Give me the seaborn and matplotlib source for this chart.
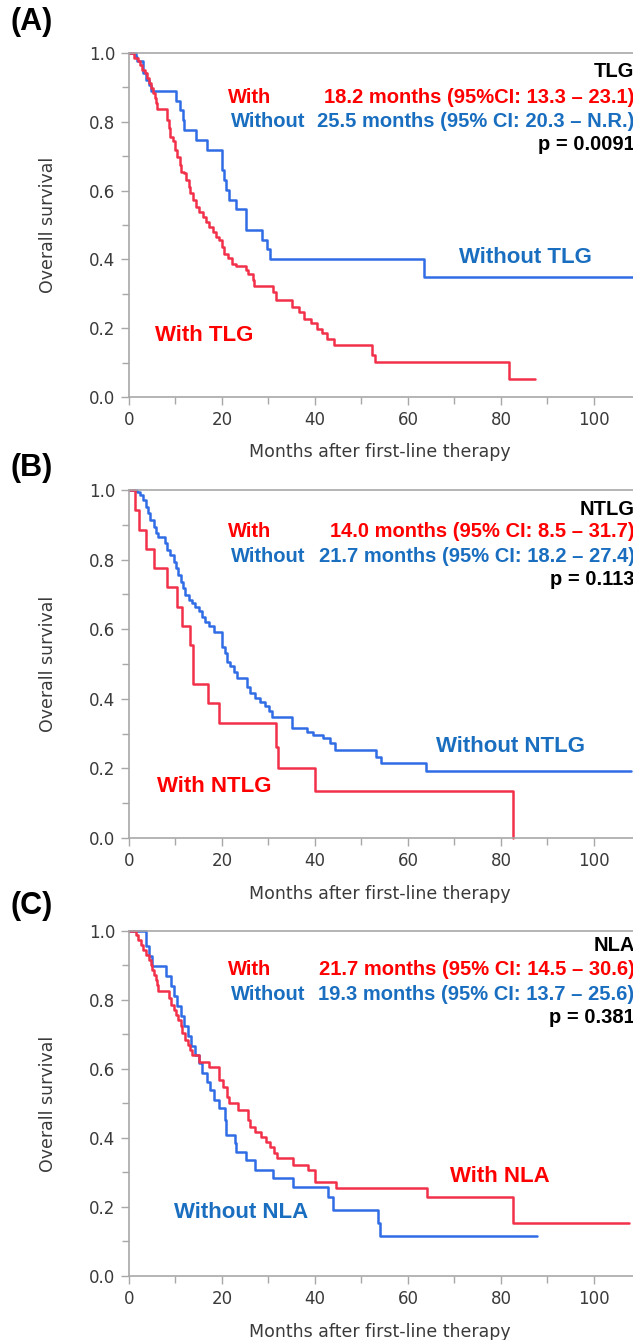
import matplotlib
matplotlib.use('Agg')
import matplotlib.pyplot as plt
import pandas as pd
import seaborn as sns
from matplotlib.ticker import MultipleLocator

# (A) TLG -- Kaplan-Meier steps (months, survival)
a_with_t = [0, 1.1, 1.9, 2.3, 2.8, 3.4, 3.9, 4.4, 4.8, 5.1, 5.5, 5.9, 6.1, 8.2, 8.5, 8.9, 9.4, 9.9, 10.4,
            10.9, 11.2, 11.8, 12.3, 12.8, 13.2, 13.7, 14.4, 15.1, 15.9, 16.6, 17.1, 18.0, 18.7, 19.4, 20.1,
            20.5, 21.2, 22.1, 23.0, 25.1, 25.5, 26.6, 26.9, 30.9, 31.6, 35.1, 36.6, 37.6, 39.1, 40.5, 41.6,
            42.6, 44.1, 52.2, 53.0, 81.8, 87.3]
a_with_s = [1.0, 0.985, 0.976, 0.966, 0.951, 0.942, 0.927, 0.913, 0.898, 0.883, 0.869, 0.854, 0.836, 0.806,
            0.782, 0.757, 0.743, 0.718, 0.699, 0.675, 0.655, 0.650, 0.631, 0.612, 0.592, 0.573, 0.553, 0.539,
            0.524, 0.510, 0.495, 0.481, 0.466, 0.456, 0.437, 0.417, 0.403, 0.388, 0.381, 0.369, 0.359, 0.340,
            0.322, 0.306, 0.282, 0.262, 0.248, 0.228, 0.214, 0.199, 0.186, 0.170, 0.150, 0.121, 0.102, 0.052,
            0.052]
a_wo_t = [0, 1.6, 1.8, 3.0, 3.7, 4.4, 4.8, 10.1, 10.9, 11.6, 11.9, 14.4, 16.8, 20.1, 20.5, 20.9, 21.4, 23.0,
          25.1, 28.7, 29.6, 30.3, 63.4, 108.4]
a_wo_s = [1.0, 0.99, 0.976, 0.942, 0.922, 0.908, 0.891, 0.861, 0.835, 0.806, 0.777, 0.748, 0.718, 0.66,
          0.631, 0.602, 0.573, 0.547, 0.487, 0.458, 0.429, 0.40, 0.35, 0.35]

# (B) NTLG
b_with_t = [0, 1.3, 2.1, 3.7, 5.4, 8.2, 10.4, 11.4, 13.2, 13.7, 17.0, 19.3, 31.6, 32.0, 40.0, 82.5]
b_with_s = [1.0, 0.943, 0.885, 0.830, 0.775, 0.721, 0.665, 0.610, 0.555, 0.443, 0.388, 0.332, 0.263, 0.201,
            0.134, 0.0]
b_wo_t = [0, 1.8, 2.4, 3.0, 3.6, 4.1, 4.6, 5.4, 5.9, 6.3, 7.7, 8.2, 8.9, 9.6, 10.1, 10.6, 11.1, 11.6, 12.1,
          12.9, 13.6, 14.3, 15.0, 15.7, 16.4, 17.3, 18.2, 19.9, 20.1, 20.6, 21.1, 21.8, 22.5, 23.2, 25.4, 26.1,
          27.1, 28.2, 29.3, 30.1, 30.7, 35.1, 38.2, 39.6, 41.8, 43.2, 44.3, 53.2, 54.1, 63.9, 108.0]
b_wo_s = [1.0, 0.995, 0.985, 0.971, 0.952, 0.933, 0.914, 0.895, 0.876, 0.864, 0.847, 0.828, 0.813, 0.794,
          0.775, 0.756, 0.737, 0.718, 0.699, 0.684, 0.675, 0.665, 0.651, 0.636, 0.622, 0.608, 0.593, 0.569,
          0.550, 0.531, 0.507, 0.493, 0.478, 0.459, 0.435, 0.416, 0.402, 0.392, 0.378, 0.364, 0.349, 0.316,
          0.306, 0.297, 0.287, 0.273, 0.252, 0.234, 0.215, 0.194, 0.194]

# (C) NLA
c_with_t = [0, 1.4, 2.0, 2.5, 3.0, 3.6, 4.2, 4.7, 5.0, 5.4, 5.8, 6.1, 6.3, 8.6, 9.0, 9.7, 10.2, 10.6, 11.2,
            11.5, 12.1, 12.6, 13.1, 13.5, 15.1, 17.1, 19.4, 20.3, 21.0, 21.6, 23.4, 25.5, 26.0, 27.2, 28.4,
            29.5, 30.4, 31.1, 31.8, 35.3, 38.5, 39.9, 44.5, 64.0, 82.5, 107.5]
c_with_s = [1.0, 0.988, 0.974, 0.959, 0.945, 0.930, 0.916, 0.901, 0.887, 0.872, 0.858, 0.843, 0.827, 0.805,
            0.786, 0.771, 0.757, 0.742, 0.723, 0.703, 0.684, 0.670, 0.655, 0.641, 0.621, 0.607, 0.568, 0.549,
            0.520, 0.500, 0.481, 0.452, 0.433, 0.418, 0.404, 0.389, 0.375, 0.356, 0.341, 0.322, 0.307, 0.273,
            0.254, 0.230, 0.153, 0.153]
c_wo_t = [0, 3.6, 4.4, 5.0, 8.0, 9.0, 9.7, 10.4, 11.2, 11.9, 12.6, 13.3, 14.2, 15.1, 15.8, 16.7, 17.4, 18.3,
          19.4, 20.7, 20.9, 22.7, 23.0, 25.2, 27.2, 30.9, 35.3, 42.8, 43.9, 53.6, 54.0, 87.7]
c_wo_s = [1.0, 0.955, 0.926, 0.897, 0.868, 0.839, 0.810, 0.781, 0.752, 0.723, 0.694, 0.665, 0.641, 0.616,
          0.587, 0.563, 0.539, 0.510, 0.486, 0.452, 0.409, 0.385, 0.360, 0.336, 0.307, 0.283, 0.259, 0.230,
          0.191, 0.153, 0.116, 0.116]

panel_tags = ['(A)', '(B)', '(C)']
factor_names = ['TLG', 'NTLG', 'NLA']
with_median = ['18.2 months (95%CI: 13.3 \u2013 23.1)', '14.0 months (95% CI: 8.5 \u2013 31.7)',
               '21.7 months (95% CI: 14.5 \u2013 30.6)']
without_median = ['25.5 months (95% CI: 20.3 \u2013 N.R.)', '21.7 months (95% CI: 18.2 \u2013 27.4)',
                  '19.3 months (95% CI: 13.7 \u2013 25.6)']
p_values = ['p = 0.0091', 'p = 0.113', 'p = 0.381']

sns.set_theme(style='ticks')
plt.rcParams['font.family'] = ['DejaVu Sans']

RED_LINE = '#F2304A'
BLUE_LINE = '#2F6CE5'
RED_TXT = '#FF0000'
BLUE_TXT = '#1A6EC0'
GREY = '#A8A8A8'
DARK = '#3A3A3A'
BOLD = ['Liberation Sans', 'DejaVu Sans']
HDR = 14.5

fig = plt.figure(figsize=(6.33, 13.4), dpi=100)

# axes boxes in figure fraction (left, bottom, width, height)
boxes = [(0.2038, 0.7037, 0.7962, 0.2567),
         (0.2038, 0.3746, 0.7962, 0.2597),
         (0.2038, 0.0478, 0.7962, 0.2575)]
tag_y = [1 - 22 / 1340, 1 - 468 / 1340, 1 - 906 / 1340]

curves = [((a_with_t, a_with_s), (a_wo_t, a_wo_s)),
          ((b_with_t, b_with_s), (b_wo_t, b_wo_s)),
          ((c_with_t, c_with_s), (c_wo_t, c_wo_s))]

# header rows (survival units) and big group labels (month, survival)
header_y = [(0.945, 0.872, 0.802, 0.735), (0.945, 0.880, 0.810, 0.744), (0.957, 0.887, 0.817, 0.748)]
with_lab = [(16.1, 0.18, RED_TXT, 'With TLG'), (18.4, 0.147, RED_TXT, 'With NTLG'),
            (79.7, 0.287, RED_TXT, 'With NLA')]
wo_lab = [(85.2, 0.407, BLUE_TXT, 'Without TLG'), (82.0, 0.264, BLUE_TXT, 'Without NTLG'),
          (24.1, 0.183, BLUE_TXT, 'Without NLA')]

for i in range(3):
    ax = fig.add_axes(boxes[i])
    (wt, ws), (ot, os_) = curves[i]
    df_w = pd.DataFrame({'month': wt, 'surv': ws})
    df_o = pd.DataFrame({'month': ot, 'surv': os_})
    sns.lineplot(data=df_o, x='month', y='surv', ax=ax, color=BLUE_LINE, lw=1.8, estimator=None,
                 sort=False, drawstyle='steps-post', clip_on=False, legend=False)
    sns.lineplot(data=df_w, x='month', y='surv', ax=ax, color=RED_LINE, lw=1.8, estimator=None,
                 sort=False, drawstyle='steps-post', clip_on=False, legend=False)

    ax.set_xlim(0, 108.4)
    ax.set_ylim(0, 1.0)
    ax.xaxis.set_major_locator(MultipleLocator(20))
    ax.xaxis.set_minor_locator(MultipleLocator(10))
    ax.yaxis.set_major_locator(MultipleLocator(0.2))
    ax.yaxis.set_minor_locator(MultipleLocator(0.1))
    ax.yaxis.set_major_formatter(lambda v, pos: f'{v:.1f}')
    ax.tick_params(which='major', length=6, width=1, color=GREY, labelsize=12, labelcolor=DARK, pad=4)
    ax.tick_params(which='minor', length=5, width=1, color=GREY)
    for side in ['left', 'bottom', 'top']:
        ax.spines[side].set_color(GREY)
        ax.spines[side].set_linewidth(1.2)
    ax.spines['right'].set_visible(False)

    ax.set_xlabel('Months after first-line therapy', fontsize=12.5, color=DARK)
    ax.set_ylabel('Overall survival', fontsize=12.5, color=DARK)
    ax.xaxis.set_label_coords(0.498, -0.135)
    ax.yaxis.set_label_coords(-0.143, 0.5)

    hy = header_y[i]
    tr = ax.get_yaxis_transform()
    ax.text(1.003, hy[0], factor_names[i], transform=tr, ha='right', va='center', fontsize=HDR,
            fontweight='bold', color='black', family=BOLD)
    ax.text(21.3, hy[1], 'With', ha='left', va='center', fontsize=HDR, fontweight='bold', color=RED_TXT,
            family=BOLD)
    ax.text(1.003, hy[1], with_median[i], transform=tr, ha='right', va='center', fontsize=HDR,
            fontweight='bold', color=RED_TXT, family=BOLD)
    ax.text(21.9, hy[2], 'Without', ha='left', va='center', fontsize=HDR, fontweight='bold', color=BLUE_TXT,
            family=BOLD)
    ax.text(1.003, hy[2], without_median[i], transform=tr, ha='right', va='center', fontsize=HDR,
            fontweight='bold', color=BLUE_TXT, family=BOLD)
    ax.text(1.003, hy[3], p_values[i], transform=tr, ha='right', va='center', fontsize=HDR,
            fontweight='bold', color='black', family=BOLD)

    for x, y, c, s in (with_lab[i], wo_lab[i]):
        ax.text(x, y, s, ha='center', va='center', fontsize=16, fontweight='bold', color=c, family=BOLD)

    fig.text(10 / 633, tag_y[i], panel_tags[i], ha='left', va='center', fontsize=22, fontweight='bold',
             color='black', family=BOLD)

fig.savefig('out.png', dpi=100)
